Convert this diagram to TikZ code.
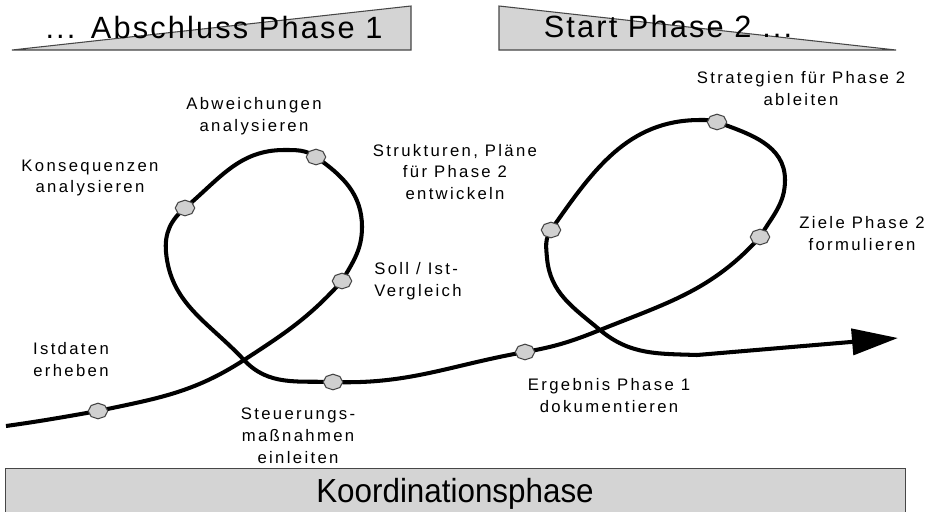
\documentclass[tikz,border=0pt]{standalone}
\usepackage{fontspec}
\setmainfont{Liberation Sans}
\newfontfamily\lblfont[LetterSpace=14]{Liberation Sans}
\newfontfamily\headfont[LetterSpace=7]{Liberation Sans}
\newfontfamily\barfont[FakeStretch=0.94]{Liberation Sans}
\usepackage{tikz}
\usetikzlibrary{arrows.meta,shapes.geometric,positioning}
\definecolor{bannergray}{RGB}{212,212,212}
\definecolor{dotgray}{RGB}{208,208,208}
\definecolor{edgegray}{RGB}{70,70,70}

\begin{document}
\begin{tikzpicture}[
    x=0.02cm, y=0.02cm,
    dot/.style={regular polygon, regular polygon sides=8, shape border rotate=22.5, yscale=0.8, transform shape, draw=edgegray, fill=dotgray, line width=0.6pt, minimum size=0.39cm, inner sep=0pt},
    lbl/.style={align=center, inner sep=0pt, font=\lblfont\fontsize{9.5}{12.5}\selectfont},
    head/.style={inner sep=0pt, font=\headfont\fontsize{17.5}{20}\selectfont},
    banner/.style={fill=bannergray, draw=edgegray, line width=0.6pt},
    spiral/.style={line width=2.3pt, -{Triangle[length=0.92cm, width=0.52cm]}}
]
\useasboundingbox (0,0) rectangle (933,-511);

% Banners
\draw[banner] (12,-50) -- (411,-50) -- (411,-6) -- cycle;
\node[head, anchor=base] (abschluss) at (214,-38) {...\enspace Abschluss Phase 1};
\draw[banner] (499,-6) -- (499,-50) -- (896,-50) -- cycle;
\node[head, anchor=base] (start) at (668,-37) {Start Phase 2 ...};

% Koordination bar
\node[banner, anchor=north west, minimum width=18cm, minimum height=1cm, inner sep=0pt] (koord) at (5,-468) {};
\node[inner sep=0pt, anchor=base, font=\barfont\fontsize{19}{22}\selectfont] (koordtxt) at (455,-502) {Koordinationsphase};

% Points on the spiral
\coordinate (s) at (6,-426);
\coordinate (ist) at (98,-411);
\coordinate (x1) at (244,-360);
\coordinate (soll) at (342,-281);
\coordinate (r1) at (362,-227);
\coordinate (abw) at (316,-157);
\coordinate (t1) at (284,-150);
\coordinate (kon) at (185,-208);
\coordinate (l1) at (166,-252);
\coordinate (steu) at (333,-382);
\coordinate (erg) at (525,-352);
\coordinate (x2) at (600,-330);
\coordinate (ziel) at (760,-237);
\coordinate (r2) at (785,-180);
\coordinate (strat) at (717,-122);
\coordinate (t2) at (700,-120);
\coordinate (plan) at (551,-230);
\coordinate (l2) at (547,-258);
\coordinate (b2) at (697,-355);
\coordinate (tip) at (898,-338);

% Spiral
\draw[spiral] (s) to[out=8,in=190] (ist) to[out=12,in=213] (x1)
  to[out=33,in=228] (soll) to[out=60,in=270] (r1) to[out=90,in=-35] (abw)
  to[out=145,in=0] (t1) to[out=180,in=40] (kon) to[out=220,in=95] (l1)
  to[out=-85,in=133] (x1) to[out=-47,in=178] (steu) to[out=-2,in=190] (erg)
  to[out=10,in=202] (x2) to[out=22,in=228] (ziel) to[out=60,in=270] (r2)
  to[out=90,in=-20] (strat) to[out=160,in=0] (t2) to[out=180,in=55] (plan)
  to[out=235,in=95] (l2) to[out=-85,in=140] (x2) to[out=-40,in=178] (b2)
  -- (tip);

% Dots
\foreach \p in {ist,soll,abw,kon,steu,erg,ziel,strat,plan}
  \node[dot] (\p-dot) at (\p) {};

% Labels
\node[lbl] (istlbl) at (71,-360) {Istdaten\\erheben};
\node[lbl] (konlbl) at (90,-178) {Konsequenzen\\analysieren};
\node[lbl] (abwlbl) at (254,-116) {Abweichungen\\analysieren};
\node[lbl] (planlbl) at (455,-172) {Strukturen, Pläne\\für Phase 2\\entwickeln};
\node[lbl, align=left, anchor=west] (solllbl) at (374,-281) {Soll / Ist-\\Vergleich};
\node[lbl] (steulbl) at (298,-436) {Steuerungs-\\maßnahmen\\einleiten};
\node[lbl] (erglbl) at (609,-396) {Ergebnis Phase 1\\dokumentieren};
\node[lbl] (stratlbl) at (801,-89) {Strategien für Phase 2\\ableiten};
\node[lbl] (ziellbl) at (862,-234) {Ziele Phase 2\\formulieren};

\end{tikzpicture}
\end{document}
